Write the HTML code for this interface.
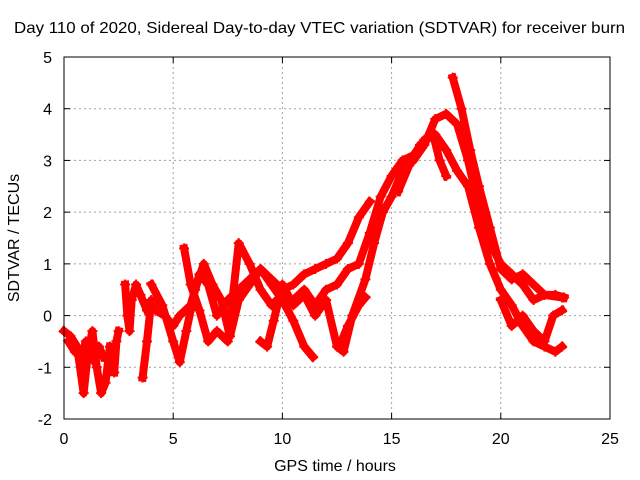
<!DOCTYPE html>
<html><head><meta charset="utf-8"><style>
body{margin:0;background:#fff}
svg{display:block;font-family:"Liberation Sans",sans-serif}
</style></head><body>
<svg id="chart" width="640" height="480">
<text x="14" y="33" textLength="611" lengthAdjust="spacingAndGlyphs" font-size="16">Day 110 of 2020, Sidereal Day-to-day VTEC variation (SDTVAR) for receiver burn</text>
<text x="335" y="471" text-anchor="middle" font-size="16">GPS time / hours</text>
<text transform="translate(19,238) rotate(-90)" text-anchor="middle" font-size="16">SDTVAR / TECUs</text>
<g id="grid"></g><g id="ticks"></g><g id="series"></g>
<rect x="64" y="57" width="546" height="362" fill="none" stroke="#000" stroke-width="1"/>
</svg>
<script>
const xTicks=[0,5,10,15,20,25];
const yTicks=[-2,-1,0,1,2,3,4,5];
const trackE0=[[0,-0.3],[0.3,-0.4],[0.6,-0.6],[0.9,-1.5],[1.1,-0.7],[1.3,-0.3],[1.5,-1.0],[1.7,-1.5],[1.9,-1.3],[2.1,-0.6]];
const trackE1=[[0.2,-0.5],[0.5,-0.7],[0.8,-0.8],[1.0,-0.5],[1.2,-0.6],[1.4,-0.9],[1.6,-0.6],[1.8,-0.8]];
const trackE2=[[2.3,-1.1],[2.4,-0.5],[2.5,-0.3]];
const trackE3=[[2.8,0.6],[2.9,0.0],[3.0,-0.3],[3.1,0.3],[3.3,0.6],[3.5,0.4],[3.8,0.1]];
const trackA=[[3.6,-1.2],[3.8,-0.5],[4.0,0.3],[4.2,0.1],[4.6,0.0],[5.0,-0.2],[5.3,0.0],[5.8,0.2],[6.2,0.8],[6.6,0.6],[7.0,0.0],[7.5,0.3],[8.0,0.5],[8.5,0.7],[9.0,0.9],[9.5,0.7],[10.0,0.5],[10.5,0.6],[11.0,0.8],[11.5,0.9],[12.0,1.0],[12.5,1.1],[13.0,1.4],[13.5,1.9],[14.0,2.2]];
const trackB=[[4.0,0.6],[4.5,0.2],[5.0,-0.5],[5.3,-0.9],[5.6,-0.3],[6.0,0.5],[6.4,1.0],[6.8,0.6],[7.2,0.3],[7.6,-0.4],[8.0,0.3],[8.5,0.6],[9.0,0.9],[9.5,0.6],[10.0,0.3],[10.5,-0.1],[11.0,-0.6],[11.4,-0.8]];
const trackC=[[5.5,1.3],[5.8,0.6],[6.2,0.1],[6.6,-0.5],[7.0,-0.3],[7.5,-0.5],[8.0,1.4],[8.5,1.0],[9.0,0.5],[9.5,0.2],[10.0,0.4],[10.5,0.3],[11.0,0.5],[11.5,0.2],[12.0,0.5],[12.5,0.6],[13.0,0.9],[13.5,1.0],[14.0,1.6],[14.5,2.3],[15.0,2.7],[15.5,3.0],[16.0,3.1],[16.5,3.4],[17.0,3.5],[17.5,3.2],[18.0,2.8],[18.5,2.5],[19.0,1.7],[19.5,1.0],[20.0,0.5],[20.5,0.2],[21.0,-0.2],[21.5,-0.5],[22.0,-0.6],[22.5,-0.7],[22.8,-0.6]];
const trackD=[[9.0,-0.5],[9.3,-0.6],[9.6,-0.1],[10.0,0.6],[10.5,0.2],[11.0,0.4],[11.5,0.0],[12.0,0.3],[12.5,-0.6],[12.8,-0.7],[13.2,0.0],[13.8,0.7],[14.2,1.4],[14.6,2.0],[15.0,2.3],[15.5,2.8],[16.0,3.0],[16.5,3.3],[17.0,3.8],[17.5,3.9],[18.0,3.7],[18.5,3.0],[19.0,2.1],[19.5,1.4],[20.0,1.0],[20.5,0.8],[21.0,0.6],[21.5,0.3],[22.0,0.4],[22.8,0.35]];
const trackE=[[12.7,-0.5],[13.0,-0.2],[13.5,0.2],[13.8,0.35]];
const trackF=[[15.3,2.4],[15.8,2.9],[16.3,3.3],[16.9,3.5],[17.2,3.0],[17.5,2.7]];
const trackG=[[17.8,4.6],[18.2,4.0],[18.6,3.2],[19.0,2.5],[19.5,1.7],[20.0,0.9],[20.5,0.7],[21.0,0.8],[21.5,0.6],[22.0,0.4],[22.5,0.4],[22.9,0.35]];
const trackH=[[20.0,0.3],[20.5,-0.2],[21.0,0.0],[21.5,-0.3],[22.0,-0.5],[22.4,0.0],[22.8,0.1]];
const tracks=[trackE0,trackE1,trackE2,trackE3,trackA,trackB,trackC,trackD,trackE,trackF,trackG,trackH];

const X0=64,X1=610,Y0=419,Y1=57;
const xs=h=>X0+(h-0)/(25-0)*(X1-X0);
const ys=v=>Y0-(v+2)/(5+2)*(Y0-Y1);
const NS='http://www.w3.org/2000/svg';
function mk(tag,attrs,parent){const e=document.createElementNS(NS,tag);for(const k in attrs)e.setAttribute(k,attrs[k]);parent.appendChild(e);return e;}
const grid=document.getElementById('grid'),ticks=document.getElementById('ticks'),series=document.getElementById('series');
xTicks.forEach(t=>{const x=xs(t);
 if(t>0&&t<25){const g=mk('line',{x1:x,x2:x,y1:Y1,y2:Y0,stroke:'#a0a0a0','stroke-dasharray':'2,3'},grid);
 
 }
 mk('line',{x1:x,x2:x,y1:Y0,y2:Y0-6,stroke:'#000'},ticks);mk('line',{x1:x,x2:x,y1:Y1,y2:Y1+6,stroke:'#000'},ticks);
 const l=mk('text',{x:x,y:Y0+25,'text-anchor':'middle','font-size':16},ticks);l.textContent=t;
 
 });
yTicks.forEach(t=>{const y=ys(t);
 if(t>-2&&t<5){const g=mk('line',{x1:X0,x2:X1,y1:y,y2:y,stroke:'#a0a0a0','stroke-dasharray':'2,3'},grid);
 
 }
 mk('line',{x1:X0,x2:X0+6,y1:y,y2:y,stroke:'#000'},ticks);mk('line',{x1:X1,x2:X1-6,y1:y,y2:y,stroke:'#000'},ticks);
 const l=mk('text',{x:X0-12,y:y+6,'text-anchor':'end','font-size':16},ticks);l.textContent=t;
 
 });
tracks.forEach((tr,i)=>{
 const g=mk('g',{},series);
 
 
 mk('polyline',{points:tr.map(p=>xs(p[0])+','+ys(p[1])).join(' '),fill:'none',stroke:'#ff0000','stroke-width':8,'stroke-linejoin':'round','stroke-linecap':'square'},g);
 tr.forEach(p=>{const x=xs(p[0]),y=ys(p[1]);
  mk('path',{d:`M${x-5},${y}H${x+5}M${x},${y-5}V${y+5}`,stroke:'#ff0000','stroke-width':2},g);});
});
</script>
</body></html>
